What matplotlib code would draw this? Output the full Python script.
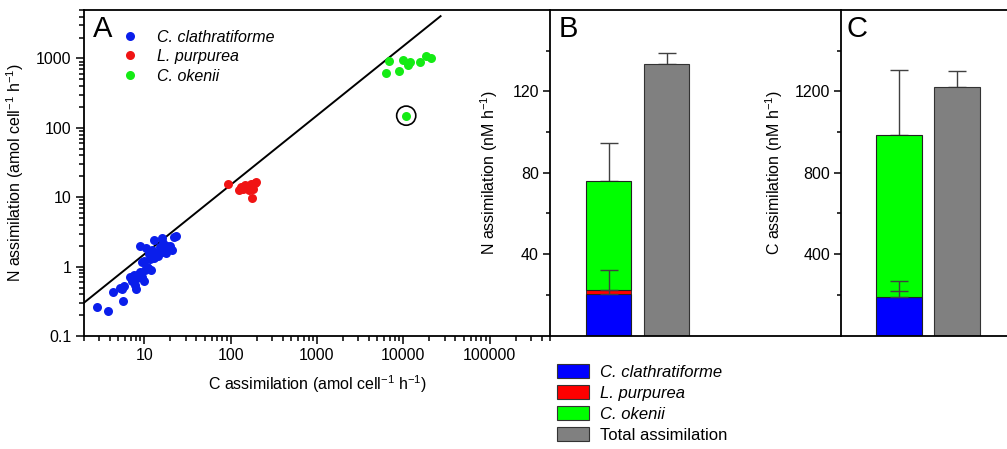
import matplotlib
matplotlib.use('Agg')
import matplotlib.pyplot as plt
from matplotlib.patches import Patch
from matplotlib.lines import Line2D
from matplotlib.ticker import LogLocator, NullFormatter, FuncFormatter, FixedLocator

plt.rcParams['font.family'] = ['Liberation Sans', 'DejaVu Sans']
plt.rcParams['mathtext.fontset'] = 'custom'
plt.rcParams['mathtext.rm'] = 'Liberation Sans'
plt.rcParams['mathtext.it'] = 'Liberation Sans:italic'

# ---------------- data ----------------
species = ['C. clathratiforme', 'L. purpurea', 'C. okenii']
total_label = 'Total assimilation'

# Panel A: single-cell assimilation (C, N) in amol cell-1 h-1
clath_C = [2.8, 3.8, 4.3, 5.2, 5.5, 5.8, 5.6, 6.9, 7.2, 7.5, 7.8, 8.0, 8.3, 8.6, 8.8,
           9.0, 9.3, 9.5, 9.8, 10.0, 10.2, 10.5, 10.8, 11.0, 11.3, 11.5, 11.8, 12.3,
           12.8, 13.0, 13.5, 14.0, 14.5, 15.0, 15.5, 16.0, 16.5, 17.0, 18.0, 18.5,
           19.5, 20.0, 21.0, 22.0, 23.0]
clath_N = [0.26, 0.23, 0.43, 0.50, 0.47, 0.52, 0.32, 0.72, 0.62, 0.75, 0.55, 0.48,
           0.68, 0.78, 2.0, 0.85, 1.15, 0.70, 0.62, 1.2, 0.90, 1.85, 1.0, 0.95, 1.5,
           1.3, 0.88, 1.75, 2.4, 1.35, 1.55, 1.45, 1.4, 1.9, 1.65, 2.55, 2.2, 1.6,
           1.55, 2.0, 1.8, 2.0, 1.75, 2.7, 2.8]
purp_C = [92, 125, 132, 140, 148, 155, 160, 165, 172, 175, 180, 190, 195]
purp_N = [15.5, 12.8, 14.0, 13.2, 15.0, 13.5, 14.5, 12.8, 15.5, 9.7, 13.0, 15.8, 16.5]
oken_C = [6300, 6900, 9000, 10000, 11300, 11800, 15500, 18500, 21000]
oken_N = [620, 920, 660, 940, 800, 900, 880, 1080, 1030]
outlier_C = [10800]
outlier_N = [150]
redfield_ratio = 16 / 106
line_C = [2.0, 27000.0]

# Panel B: N assimilation (nM h-1)
N_clath = 20.5
N_purp = 1.8
N_oken = 53.7
N_oken_err = 18.7
N_low_err_center = 22.3
N_low_err_down = 1.8
N_low_err_up = 10.1
N_total = 133.3
N_total_err = 5.8

# Panel C: C assimilation (nM h-1)
C_clath = 189
C_purp = 2
C_oken = 793
C_oken_err = 321
C_low_err_center = 217
C_low_err_down = 28
C_low_err_up = 50
C_total = 1223
C_total_err = 76

colors = ['#0000FF', '#FF0000', '#00FF00']
dot_colors = ['#0A1EEB', '#F01414', '#14EB14']
gray = '#808080'
ecol = '#404040'

# ---------------- figure ----------------
W, H = 1007, 449
fig = plt.figure(figsize=(W / 100, H / 100), dpi=100)


def rect(x0, y0, x1, y1):
    return [x0 / W, 1 - y1 / H, (x1 - x0) / W, (y1 - y0) / H]


axA = fig.add_axes(rect(84, 10, 550, 336))
axB = fig.add_axes(rect(550, 10, 841, 335.5))
axC = fig.add_axes(rect(841, 10, 1007, 335.5))

SPW = 1.3
for ax in (axA, axB, axC):
    ax.spines['right'].set_visible(False)
    for s in ('left', 'bottom', 'top'):
        ax.spines[s].set_linewidth(SPW)
    ax.set_facecolor('none')

TFS = 11.5

# ---- Panel A ----
axA.set_xscale('log')
axA.set_yscale('log')
axA.scatter(clath_C, clath_N, s=42, color=dot_colors[0], linewidths=0, zorder=3)
axA.scatter(purp_C, purp_N, s=42, color=dot_colors[1], linewidths=0, zorder=3)
axA.scatter(oken_C, oken_N, s=42, color=dot_colors[2], linewidths=0, zorder=3)
axA.scatter(outlier_C, outlier_N, s=42, color=dot_colors[2], linewidths=0, zorder=3)
axA.scatter(outlier_C, outlier_N, s=190, facecolors='none', edgecolors='black',
            linewidths=1.2, zorder=4)
axA.plot(line_C, [c * redfield_ratio for c in line_C], color='black', lw=1.4, zorder=2)
axA.set_xlim(2, 5e5)
axA.set_ylim(0.1, 5000)

fmt = FuncFormatter(lambda v, p: f'{v:g}')
for axis in (axA.xaxis, axA.yaxis):
    axis.set_major_locator(LogLocator(base=10, numticks=20))
    axis.set_minor_locator(LogLocator(base=10, subs=range(2, 10), numticks=20))
    axis.set_major_formatter(fmt)
    axis.set_minor_formatter(NullFormatter())
axA.tick_params(which='both', direction='out', top=False, right=False,
                labelsize=TFS, width=1.1)
axA.tick_params(which='major', length=6, pad=3)
axA.tick_params(which='minor', length=3.5)

axA.set_xlabel('C assimilation (amol cell$^{-1}$ h$^{-1}$)', fontsize=TFS)
axA.set_ylabel('N assimilation (amol cell$^{-1}$ h$^{-1}$)', fontsize=TFS)
axA.xaxis.set_label_coords(0.5, -0.115)
axA.yaxis.set_label_coords(-0.125, 0.5)
axA.text(0.019, 0.917, 'A', transform=axA.transAxes, fontsize=21, va='baseline')

handlesA = [Line2D([], [], ls='none', marker='o', markersize=6.5,
                   markerfacecolor=c, markeredgewidth=0) for c in dot_colors]
legA = axA.legend(handlesA, species, loc='upper left', bbox_to_anchor=(0.0815, 0.94),
                  frameon=False, borderpad=0, borderaxespad=0, handlelength=1.0,
                  handletextpad=1.2, labelspacing=0.28, fontsize=TFS)
for t in legA.get_texts():
    t.set_style('italic')

# ---- Panels B and C ----
bar_w = 0.79


def stacked(ax, clath, purp, oken, oken_err, lc, ld, lu, total, total_err):
    ax.bar(0, clath, width=bar_w, color=colors[0], edgecolor='#222222', lw=0.8, zorder=2)
    ax.bar(0, purp, bottom=clath, width=bar_w, color=colors[1], edgecolor='#222222',
           lw=0.6, zorder=2)
    ax.bar(0, oken, bottom=clath + purp, width=bar_w, color=colors[2],
           edgecolor='#222222', lw=0.8, zorder=2)
    ax.bar(1, total, width=bar_w, color=gray, edgecolor='#333333', lw=0.8, zorder=2)
    top = clath + purp + oken
    ax.errorbar([0], [top], yerr=[[0], [oken_err]], fmt='none', ecolor=ecol,
                elinewidth=1.0, capsize=6.5, capthick=1.0, zorder=1)
    ax.errorbar([1], [total], yerr=[[0], [total_err]], fmt='none', ecolor=ecol,
                elinewidth=1.0, capsize=6.5, capthick=1.0, zorder=1)
    ax.errorbar([0], [lc], yerr=[[ld], [lu]], fmt='_', color=ecol, markersize=13,
                markeredgewidth=1.0, ecolor=ecol, elinewidth=1.0, capsize=6.5,
                capthick=1.0, zorder=3)
    ax.set_xticks([])
    ax.tick_params(axis='y', which='both', direction='out', labelsize=TFS, width=1.1)
    ax.tick_params(axis='y', which='major', length=5, pad=3)
    ax.tick_params(axis='y', which='minor', length=3)


stacked(axB, N_clath, N_purp, N_oken, N_oken_err, N_low_err_center, N_low_err_down,
        N_low_err_up, N_total, N_total_err)
axB.set_ylim(0, 160)
axB.set_xlim(-1.01, 4.01)
axB.yaxis.set_major_locator(FixedLocator([40, 80, 120]))
axB.yaxis.set_minor_locator(FixedLocator([20, 60, 100, 140]))
axB.set_ylabel('N assimilation (nM h$^{-1}$)', fontsize=TFS)
axB.yaxis.set_label_coords(-0.172, 0.5)
axB.text(0.031, 0.917, 'B', transform=axB.transAxes, fontsize=21, va='baseline')

stacked(axC, C_clath, C_purp, C_oken, C_oken_err, C_low_err_center, C_low_err_down,
        C_low_err_up, C_total, C_total_err)
axC.set_ylim(0, 1600)
axC.set_xlim(-1.0, 1.862)
axC.yaxis.set_major_locator(FixedLocator([400, 800, 1200]))
axC.yaxis.set_minor_locator(FixedLocator([200, 600, 1000, 1400]))
axC.set_ylabel('C assimilation (nM h$^{-1}$)', fontsize=TFS)
axC.yaxis.set_label_coords(-0.337, 0.5)
axC.text(0.036, 0.917, 'C', transform=axC.transAxes, fontsize=21, va='baseline')

# ---- bottom legend ----
leg_handles = [Patch(facecolor=c, edgecolor='#333333', lw=0.8) for c in colors]
leg_handles.append(Patch(facecolor=gray, edgecolor='#333333', lw=0.8))
leg = fig.legend(leg_handles, species + [total_label], loc='upper left',
                 bbox_to_anchor=(557 / W, 1 - 364 / H), frameon=False, borderpad=0,
                 borderaxespad=0, handlelength=1.92, handleheight=0.96,
                 handletextpad=0.66, labelspacing=0.3, fontsize=12)
for t in leg.get_texts()[:3]:
    t.set_style('italic')

fig.savefig('out.png', dpi=100)
